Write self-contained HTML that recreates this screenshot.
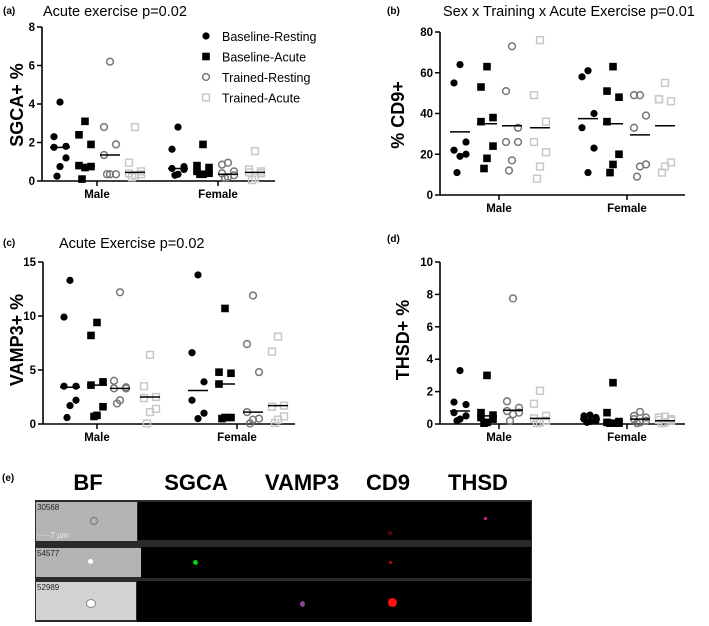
<!DOCTYPE html>
<html><head><meta charset="utf-8"><style>
body{margin:0;background:#fff;font-family:"Liberation Sans",Arial,sans-serif}
#wrap{position:relative;width:709px;height:626px;overflow:hidden}
.hdr{position:absolute;top:470px;font-weight:bold;font-size:22px;transform:translateX(-50%)}
.bx{position:absolute}
.dot{position:absolute;border-radius:50%}
.lbl{position:absolute;font-size:8px;color:#222}
</style></head><body><div id="wrap">
<svg id="chart" width="709" height="455" style="position:absolute;left:0;top:0"></svg>
<div class="lbl" style="left:2px;top:473px;font-size:10px;font-weight:bold;color:#000">(e)</div>
<div class="hdr" style="left:88px">BF</div>
<div class="hdr" style="left:196px">SGCA</div>
<div class="hdr" style="left:302px">VAMP3</div>
<div class="hdr" style="left:388px">CD9</div>
<div class="hdr" style="left:478px">THSD</div>
<div class="bx" style="left:35px;top:500px;width:497px;height:122px;background:#2a2a2a"></div>
<div class="bx" style="left:36px;top:502px;width:101px;height:39px;background:#b4b4b4"></div>
<div class="bx" style="left:138px;top:502px;width:393px;height:38px;background:#000"></div>
<div class="bx" style="left:36px;top:548px;width:105px;height:29px;background:#b4b4b4"></div>
<div class="bx" style="left:141px;top:547px;width:390px;height:31px;background:#000"></div>
<div class="bx" style="left:36px;top:582px;width:100px;height:38px;background:#d2d2d2"></div>
<div class="bx" style="left:137px;top:581px;width:394px;height:41px;background:#000"></div>
<div class="lbl" style="left:37px;top:503px">30568</div>
<div class="lbl" style="left:37px;top:531px;color:#eee">·····7 µm</div>
<div class="lbl" style="left:37px;top:549px">54577</div>
<div class="lbl" style="left:37px;top:583px">52989</div>
<div class="dot" style="left:90px;top:517px;width:6px;height:6px;border:1px solid #777"></div>
<div class="dot" style="left:88px;top:559px;width:5px;height:5px;background:#fff"></div>
<div class="dot" style="left:86px;top:599px;width:8px;height:7px;background:#fff;border:1px solid #888"></div>
<div class="dot" style="left:193px;top:560px;width:5px;height:5px;background:#1c1"></div>
<div class="dot" style="left:388px;top:531px;width:4px;height:4px;background:#600"></div>
<div class="dot" style="left:389px;top:561px;width:3px;height:3px;background:#c00"></div>
<div class="dot" style="left:388px;top:598px;width:9px;height:9px;background:#f11"></div>
<div class="dot" style="left:484px;top:517px;width:3px;height:3px;background:#d2a"></div>
<div class="dot" style="left:300px;top:601px;width:5px;height:6px;background:#849"></div>
</div>
<script>
const NS="http://www.w3.org/2000/svg";
const svg=document.getElementById('chart');
const groupNames=["Baseline-Resting","Baseline-Acute","Trained-Resting","Trained-Acute"];
const sexes=["Male","Female"];
const sgcaValues=[[[4.1,2.3,1.8,1.75,1.2,0.75,0.25],[3.1,2.4,1.9,0.8,0.75,0.7,0.1],[6.2,2.8,1.9,1.35,0.35,0.35,0.35],[2.8,0.95,0.5,0.4,0.35,0.3,0.2]],
 [[2.8,1.65,0.75,0.65,0.6,0.35,0.3],[1.9,0.8,0.7,0.5,0.4,0.35,0.35],[0.95,0.85,0.5,0.4,0.3,0.2,0.15],[1.55,0.6,0.5,0.45,0.4,0.15,0.05]]];
const sgcaMedians=[[1.75,0.8,1.35,0.45],[0.65,0.45,0.35,0.45]];
const cd9Values=[[[64,55,26,22,20,19,11],[63,53,38,36,24,18,13],[73,51,33,26,26,17,12],[76,49,36,26,21,14,8]],
 [[61,58,40,33,23,11],[63,51,48,36,20,15,11],[49,49,39,33,15,14,9],[55,47,46,47,16,14,11]]];
const cd9Medians=[[31,35,34,33],[37.5,35,29.5,34]];
const vamp3Values=[[[13.3,9.9,3.5,3.5,2.2,1.7,0.6],[9.4,8.2,3.9,3.6,1.6,0.8,0.7],[12.2,4.0,3.4,3.3,3.3,2.2,1.9],[6.4,3.5,2.5,2.4,1.4,1.1,0.05]],
 [[13.8,6.6,3.9,2.2,1.0,0.5],[10.7,4.8,4.7,3.7,0.6,0.6,0.5],[11.9,7.4,4.8,1.1,0.5,0.4,0.05],[8.1,6.7,1.7,1.6,0.7,0.4,0.1]]];
const vamp3Medians=[[3.4,3.6,3.3,2.5],[3.1,3.7,1.1,1.7]];
const thsdValues=[[[3.3,1.35,1.2,0.7,0.5,0.3,0.2],[3.0,0.7,0.55,0.4,0.3,0.1,0.05],[7.75,1.4,1.0,0.8,0.7,0.6,0.2],[2.05,1.25,0.5,0.35,0.2,0.1,0.05]],
 [[0.55,0.5,0.4,0.3,0.2,0.15,0.1],[2.55,0.7,0.15,0.1,0.05,0.05,0.05],[0.75,0.5,0.4,0.3,0.2,0.1,0.05],[0.45,0.4,0.3,0.25,0.2,0.1,0.05]]];
const thsdMedians=[[0.8,0.5,0.85,0.35],[0.3,0.1,0.3,0.2]];
const sgcaTicks=[0,2,4,6,8], cd9Ticks=[0,20,40,60,80], vamp3Ticks=[0,5,10,15], thsdTicks=[0,2,4,6,8,10];

const panels=[
 {id:'a',vals:sgcaValues,med:sgcaMedians,ticks:sgcaTicks,ax:42,y0:181,yT:27,xEnd:275,gx:[[60,85,110,135],[178,203,228,255]],sx:[97,218],title:"Acute exercise p=0.02",tx:43,ty:14,lx:3,yl:"SGCA+ %",ylx:17,yly:105,legend:true},
 {id:'b',vals:cd9Values,med:cd9Medians,ticks:cd9Ticks,ax:440,y0:195,yT:32,xEnd:685,gx:[[460,487,512,540],[588,613,640,665]],sx:[499,627],title:"Sex x Training x Acute Exercise p=0.01",tx:443,ty:14,lx:387,yl:"% CD9+",ylx:398,yly:115},
 {id:'c',vals:vamp3Values,med:vamp3Medians,ticks:vamp3Ticks,ax:43,y0:424,yT:262,xEnd:295,gx:[[70,97,120,150],[198,225,253,278]],sx:[97,237],title:"Acute Exercise p=0.02",tx:59,ty:246,lx:3,yl:"VAMP3+ %",ylx:17,yly:340},
 {id:'d',vals:thsdValues,med:thsdMedians,ticks:thsdTicks,ax:440,y0:424,yT:262,xEnd:685,gx:[[460,487,513,540],[590,613,640,665]],sx:[499,627],title:"",tx:0,ty:0,lx:387,yl:"THSD+ %",ylx:403,yly:340}
];
const jitter=[0,-6,6,-6,6,0,-3];
const colors=["#000","#000","#777","#c8c8c8"];
function el(tag,attrs,parent){const e=document.createElementNS(NS,tag);for(const k in attrs)e.setAttribute(k,attrs[k]);(parent||svg).appendChild(e);return e;}
function mk(g,type,x,y,name){
  let m;
  if(type===0) m=el('circle',{cx:x,cy:y,r:3.6,fill:'#000'},g);
  else if(type===1) m=el('rect',{x:x-3.8,y:y-3.8,width:7.6,height:7.6,fill:'#000'},g);
  else if(type===2) m=el('circle',{cx:x,cy:y,r:3.4,fill:'none',stroke:colors[2],'stroke-width':1.5},g);
  else m=el('rect',{x:x-3.4,y:y-3.4,width:6.8,height:6.8,fill:'none',stroke:colors[3],'stroke-width':1.5},g);
  
  
  return m;
}
panels.forEach(p=>{
  const g=el('g',{});
  
  
  const max=p.ticks[p.ticks.length-1];
  const Y=v=>p.y0-(v/max)*(p.y0-p.yT);
  const ya=el('line',{x1:p.ax,y1:p.yT,x2:p.ax,y2:p.y0,stroke:'#000','stroke-width':1.6},g);
  
  const xa=el('line',{x1:p.ax,y1:p.y0,x2:p.xEnd,y2:p.y0,stroke:'#000','stroke-width':1.6},g);
  
  p.ticks.forEach(t=>{
    el('line',{x1:p.ax-5,y1:Y(t),x2:p.ax,y2:Y(t),stroke:'#000','stroke-width':1.5},g);
    const tl=el('text',{x:p.ax-7,y:Y(t)+4,'text-anchor':'end','font-size':11.5,'font-weight':'bold'},g);
    tl.textContent=t;
    
  });
  sexes.forEach((s,si)=>{
    el('line',{x1:p.sx[si],y1:p.y0,x2:p.sx[si],y2:p.y0+5,stroke:'#000','stroke-width':1.5},g);
    const xl=el('text',{x:p.sx[si],y:p.y0+17,'text-anchor':'middle','font-size':11.5,'font-weight':'bold'},g);
    xl.textContent=s;
    
    groupNames.forEach((gn,gi)=>{
      const cx=p.gx[si][gi];
      p.vals[si][gi].forEach((v,i)=>mk(g,gi,cx+jitter[i%jitter.length],Y(v),'point-'+gn.toLowerCase()));
      const ml=el('line',{x1:cx-10,y1:Y(p.med[si][gi]),x2:cx+10,y2:Y(p.med[si][gi]),stroke:'#000','stroke-width':1.5},g);
      
    });
  });
  const pl=el('text',{x:p.lx,y:p.ty||(p.yT-20),'font-size':10,'font-weight':'bold'},g);
  pl.textContent='('+p.id+')';
  
  if(p.title){const t=el('text',{x:p.tx,y:p.ty+2,'font-size':14.5},g);t.textContent=p.title;
    }
  const yl=el('text',{x:p.ylx,y:p.yly,'font-size':18,'font-weight':'bold','text-anchor':'middle',transform:`rotate(-90 ${p.ylx} ${p.yly})`,dy:6},g);
  yl.textContent=p.yl;
  
  if(p.legend){
    groupNames.forEach((gn,gi)=>{
      const ly=36+gi*20.5;
      const lg=el('g',{},g);
      
      mk(lg,gi,206,ly,'legend-marker');
      const lt=el('text',{x:222,y:ly+5,'font-size':12.5},lg);lt.textContent=gn;
    });
  }
});
</script>
</body></html>
